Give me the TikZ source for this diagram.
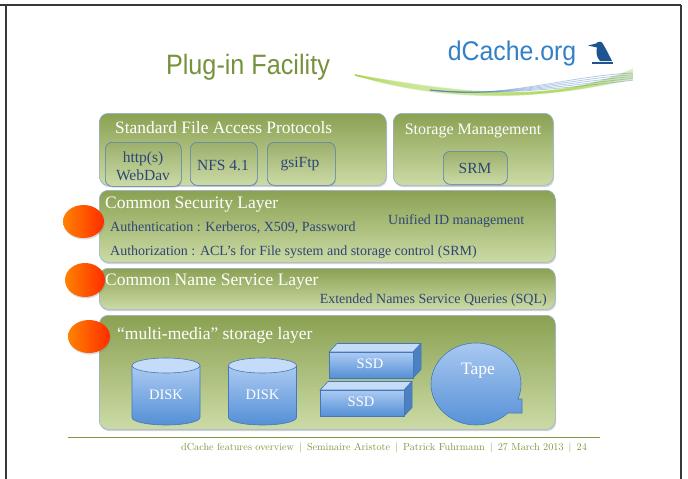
\documentclass[tikz,border=0pt]{standalone}
\usepackage{fontspec}
\setmainfont{Liberation Serif}
\newfontfamily\titlefont[FakeStretch=0.9]{Liberation Sans}
\newfontfamily\logofont[FakeStretch=0.92]{Liberation Sans}
\newfontfamily\footfont[Extension=.otf]{lmroman10-regular}
\usetikzlibrary{shapes.geometric,shadows}

\definecolor{framegray}{RGB}{55,55,55}
\definecolor{titlegreen}{RGB}{118,146,60}
\definecolor{laytop}{RGB}{138,161,82}
\definecolor{laybot}{RGB}{204,219,166}
\definecolor{layedge}{RGB}{150,178,210}
\definecolor{subedge}{RGB}{84,128,186}
\definecolor{inktext}{RGB}{45,70,118}
\definecolor{mediatop}{RGB}{172,203,242}
\definecolor{mediabot}{RGB}{84,143,214}
\definecolor{mediaedge}{RGB}{70,120,185}
\definecolor{disktop}{RGB}{196,220,248}
\definecolor{balllight}{RGB}{255,130,0}
\definecolor{balldark}{RGB}{255,45,0}
\definecolor{logoblue}{RGB}{50,128,198}
\definecolor{birdblue}{RGB}{30,85,145}
\definecolor{swgreen}{RGB}{165,210,70}
\definecolor{swblue}{RGB}{70,125,190}
\definecolor{footgreen}{RGB}{122,152,62}

\tikzset{
  layer/.style={draw=layedge, line width=0.6pt, rounded corners=9pt,
    top color=laytop, bottom color=laybot, anchor=north west, inner sep=0pt,
    drop shadow={shadow xshift=0.8pt, shadow yshift=-1.8pt, opacity=0.35}},
  subbox/.style={draw=subedge, line width=0.6pt, rounded corners=7pt,
    top color=laytop!85!white, bottom color=laybot, anchor=north west, inner sep=0pt,
    drop shadow={shadow xshift=0.6pt, shadow yshift=-1.2pt, opacity=0.3}},
  ball/.style={ellipse, inner sep=0pt, left color=balllight, right color=balldark,
    drop shadow={shadow xshift=0.8pt, shadow yshift=-1.5pt, opacity=0.3}},
  laytitle/.style={text=white, anchor=west, inner sep=0pt, font=\fontsize{17.5}{18}\selectfont},
  laytext/.style={text=inktext, anchor=west, inner sep=0pt, font=\fontsize{14}{15}\selectfont},
  subtext/.style={text=inktext, inner sep=0pt, align=center, font=\fontsize{15.5}{18}\selectfont},
  media/.style={draw=mediaedge, line width=0.6pt, top color=mediatop, bottom color=mediabot},
  medialabel/.style={text=white, inner sep=0pt, font=\fontsize{14.5}{15}\selectfont}
}

\begin{document}
\begin{tikzpicture}[x=1pt, y=-1pt]
    \useasboundingbox (0,0) rectangle (688,479);

    % page frame
    \draw[framegray, line width=1.3pt] (0,5) -- (681,5);
    \draw[framegray, line width=2.2pt] (6,5) -- (6,479);
    \draw[framegray, line width=1.5pt] (681,5) -- (681,479);

    % heading and logo
    \node[font=\titlefont\fontsize{28}{28}\selectfont, text=titlegreen] (title) at (248,67) {Plug-in Facility};

    \foreach \k in {0,...,9}
        \draw[swgreen, opacity=0.3, line width=1.2pt] (355,75) .. controls (450,90+\k*1.6) and (545,108-\k) .. (633,69+\k*1.1);
    \foreach \k in {0,...,4}
        \draw[swblue, opacity=0.4, line width=0.8pt] (430,90) .. controls (500,100-\k) and (565,76+\k*3) .. (633,73+\k*1.8);

    \node[font=\logofont\fontsize{27}{27}\selectfont, text=logoblue] (logo) at (512,54) {dCache.org};
    \fill[birdblue] (592,61.5) rectangle (613,63.5);
    \fill[birdblue] (588,45.5) -- (596,43.5) .. controls (598,41) and (602,41) .. (603,44)
        .. controls (606,49) and (609,55) .. (612,61) -- (600,61)
        .. controls (596,57) and (596,51) .. (597,47.5) -- cycle;

    % protocol and storage management row
    \node[layer, minimum width=287pt, minimum height=72pt] (protL) at (99,113) {};
    \node[layer, minimum width=160pt, minimum height=72pt] (storL) at (393,113) {};
    \node[laytitle, font=\fontsize{17.4}{18}\selectfont] (protT) at (115,128) {Standard File Access Protocols};
    \node[laytitle, anchor=center, font=\fontsize{16}{18}\selectfont] (storT) at (473,131) {Storage Management};

    \node[subbox, minimum width=76pt, minimum height=44pt] (httpB) at (105,142) {};
    \node[subbox, minimum width=67pt, minimum height=43pt] (nfsB) at (190,142) {};
    \node[subbox, minimum width=68pt, minimum height=43pt] (ftpB) at (267,142) {};
    \node[subbox, minimum width=64pt, minimum height=33pt] (srmB) at (443,151) {};
    \node[subtext] (httpT) at (143,166) {http(s)\\WebDav};
    \node[subtext] (nfsT) at (223,165) {NFS 4.1};
    \node[subtext] (ftpT) at (300,164) {gsiFtp};
    \node[subtext] (srmT) at (475,168) {SRM};

    % security layer
    \node[layer, minimum width=456pt, minimum height=72pt] (secL) at (99,190) {};
    \node[laytitle] (secT) at (105,205) {Common Security Layer};
    \node[laytext] (authn) at (110,228) {Authentication : Kerberos, X509, Password};
    \node[laytext] (uid) at (388,221) {Unified ID management};
    \node[laytext] (authz) at (110,252) {Authorization : ACL’s for File system and storage control (SRM)};

    % name service layer
    \node[layer, minimum width=456pt, minimum height=41pt] (nameL) at (99,268) {};
    \node[laytitle] (nameT) at (105,282) {Common Name Service Layer};
    \node[laytext, anchor=east] (sql) at (547,300) {Extended Names Service Queries (SQL)};

    % storage media layer
    \node[layer, minimum width=456pt, minimum height=114pt] (mediaL) at (99,315) {};
    \node[laytitle] (mediaT) at (117,335) {“multi-media” storage layer};

    \foreach \cx/\n in {166/diskA, 262.5/diskB} {
        \shade[media] (\cx-34,365.5) -- (\cx-34,417.5)
            arc[start angle=180, end angle=0, x radius=34, y radius=7.5] -- (\cx+34,365.5) -- cycle;
        \draw[mediaedge, line width=0.6pt, fill=disktop] (\cx,365.5) ellipse[x radius=34, y radius=7.5];
        \node[medialabel] (\n) at (\cx,395) {DISK};
    }

    \foreach \x/\y/\n in {329/352/ssdA, 320/390/ssdB} {
        \draw[mediaedge, line width=0.6pt, fill=disktop] (\x,\y) -- ++(8,-8.5) -- ++(84,0) -- ++(-8,8.5) -- cycle;
        \draw[mediaedge, line width=0.6pt, fill=mediabot!90!black] (\x+84,\y) -- ++(8,-8.5) -- ++(0,26) -- ++(-8,8.5) -- cycle;
        \shade[media] (\x,\y) rectangle ++(84,26);
        \node[medialabel] (\n) at (\x+41,\y+12) {SSD};
    }

    \shade[media] ({476+45*cos(45)},{384+41*sin(45)})
        arc[start angle=45, end angle=381.5, x radius=45, y radius=41] -- (522,399) -- (522,413) -- cycle;
    \node[medialabel, font=\fontsize{17.5}{18}\selectfont] (tape) at (478,371) {Tape};

    % markers at the left of the layers
    \node[ball, minimum width=41pt, minimum height=33pt] (ballA) at (83.5,221.5) {};
    \node[ball, minimum width=40pt, minimum height=34pt] (ballB) at (85,280) {};
    \node[ball, minimum width=42pt, minimum height=33pt] (ballC) at (89,336.5) {};

    % footer
    \coordinate (footL) at (68,437.5);
    \coordinate (footR) at (600,437.5);
    \draw[footgreen, line width=1.4pt] (footL) -- (footR);
    \node[text=footgreen, inner sep=0pt, font=\footfont\fontsize{10.2}{12}\selectfont] (foot) at (384,448)
        {dCache features overview \,|\, Seminaire Aristote \,|\, Patrick Fuhrmann \,|\, 27 March 2013 \,|\, 24};
\end{tikzpicture}
\end{document}
